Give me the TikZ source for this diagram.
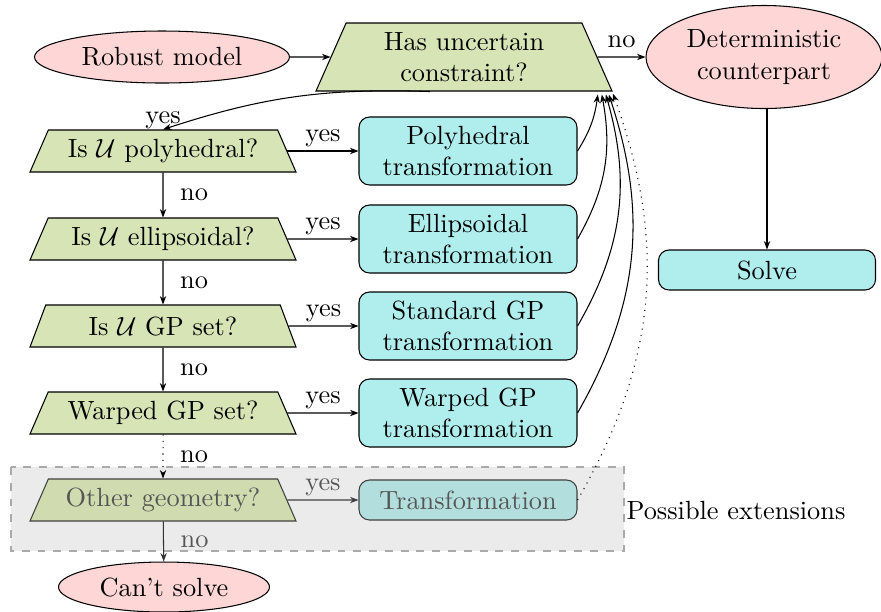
\documentclass[tikz,border=0pt]{standalone}
\usetikzlibrary{shapes.geometric,arrows.meta,calc}
\definecolor{pinkfill}{HTML}{FFD6D6}
\definecolor{greenfill}{HTML}{D7E4B5}
\definecolor{cyanfill}{HTML}{B0EDED}
\definecolor{extbg}{HTML}{EBEBEB}
\definecolor{extline}{HTML}{AAAAAA}
\definecolor{extgreen}{HTML}{D0DCB0}
\definecolor{extcyan}{HTML}{B3DEDE}
\definecolor{exttext}{HTML}{555555}
\def\px{0.38pt}
\begin{document}
\begin{tikzpicture}[x=0.38pt,y=-0.38pt,
  arr/.style={-{Stealth[length=3.2pt,width=2.4pt]}},
  term/.style={ellipse, draw, fill=pinkfill, inner sep=0pt, align=center},
  decision/.style={trapezium, draw, fill=greenfill, trapezium stretches body=true,
    trapezium left angle=62, trapezium right angle=62,
    minimum width=266*\px, minimum height=42*\px, inner sep=2pt, align=center},
  process/.style={rectangle, draw, fill=cyanfill, rounded corners=4pt,
    minimum width=218*\px, minimum height=68*\px, inner sep=2pt, align=center},
  extdecision/.style={decision, fill=extgreen, draw=black!75, text=exttext},
  extprocess/.style={process, fill=extcyan, draw=black!75, text=exttext, minimum height=40*\px},
  lbl/.style={inner sep=3.33pt},
  yeslbl/.style={lbl, above, yshift=-1.8pt}
]
\useasboundingbox (0,0) rectangle (881,611);
% extension region
\draw[extline, dashed, fill=extbg] (11,467) rectangle (624,551);
\node (ext) at (736,510) {Possible extensions};

% nodes
\node[term, minimum width=255*\px, minimum height=52*\px] (robust) at (162,57) {Robust model};
\node[decision, trapezium left angle=63.5, trapezium right angle=63.5,
      minimum width=296*\px, minimum height=68*\px] (has) at (464,57) {Has uncertain\\constraint?};
\node[term, minimum width=236*\px, minimum height=103*\px] (det) at (764,57) {Deterministic\\counterpart};
\node[process, minimum width=217*\px, minimum height=40*\px] (solve) at (767,270) {Solve};

\node[decision] (q1) at (163,151) {Is $\mathcal{U}$ polyhedral?};
\node[decision] (q2) at (163,239) {Is $\mathcal{U}$ ellipsoidal?};
\node[decision] (q3) at (163,326) {Is $\mathcal{U}$ GP set?};
\node[decision] (q4) at (163,413) {Warped GP set?};
\node[extdecision] (q5) at (163,500) {Other geometry?};

\node[process] (t1) at (468,151) {Polyhedral\\transformation};
\node[process] (t2) at (468,239) {Ellipsoidal\\transformation};
\node[process] (t3) at (468,326) {Standard GP\\transformation};
\node[process] (t4) at (468,413) {Warped GP\\transformation};
\node[extprocess] (t5) at (468,500) {Transformation};

\node[term, minimum width=211*\px, minimum height=50*\px] (cant) at (164,587) {Can't solve};

% connectors
\draw[arr] (robust) -- (has);
\draw[arr] (has) -- node[lbl, above] {no} (det);
\draw[arr] (solve.north |- det.south) -- (solve.north);
\draw[arr] ($(has.south)+(-34,0)$) to[bend right=10] node[lbl, pos=1, above, yshift=-3.4pt] {yes} (q1.north);

\draw[arr] (q1) -- node[yeslbl] {yes} (t1);
\draw[arr] (q2) -- node[yeslbl] {yes} (t2);
\draw[arr] (q3) -- node[yeslbl] {yes} (t3);
\draw[arr] (q4) -- node[yeslbl] {yes} (t4);
\draw[arr, black!75] (q5) -- node[yeslbl, text=exttext] {yes} (t5);

\draw[arr] (q1) -- node[lbl, right=3pt] {no} (q2);
\draw[arr] (q2) -- node[lbl, right=3pt] {no} (q3);
\draw[arr] (q3) -- node[lbl, right=3pt] {no} (q4);
\draw[arr, dotted] (q4) -- node[lbl, right=3pt] {no} (q5);
\draw[arr, black!80] (q5) -- node[lbl, right=3pt, text=exttext] {no} (cant);

\coordinate (hc) at (has.bottom right corner);
\draw[arr] (t1.east) to[bend right=12] ($(hc)+(-15,3)$);
\draw[arr] (t2.east) to[bend right=20] ($(hc)+(-11,3)$);
\draw[arr] (t3.east) to[bend right=23] ($(hc)+(-7,3)$);
\draw[arr] (t4.east) to[bend right=24] ($(hc)+(-4,3)$);
\draw[arr, dotted] (t5.east) to[bend right=25] ($(hc)+(0,2)$);
\end{tikzpicture}
\end{document}
